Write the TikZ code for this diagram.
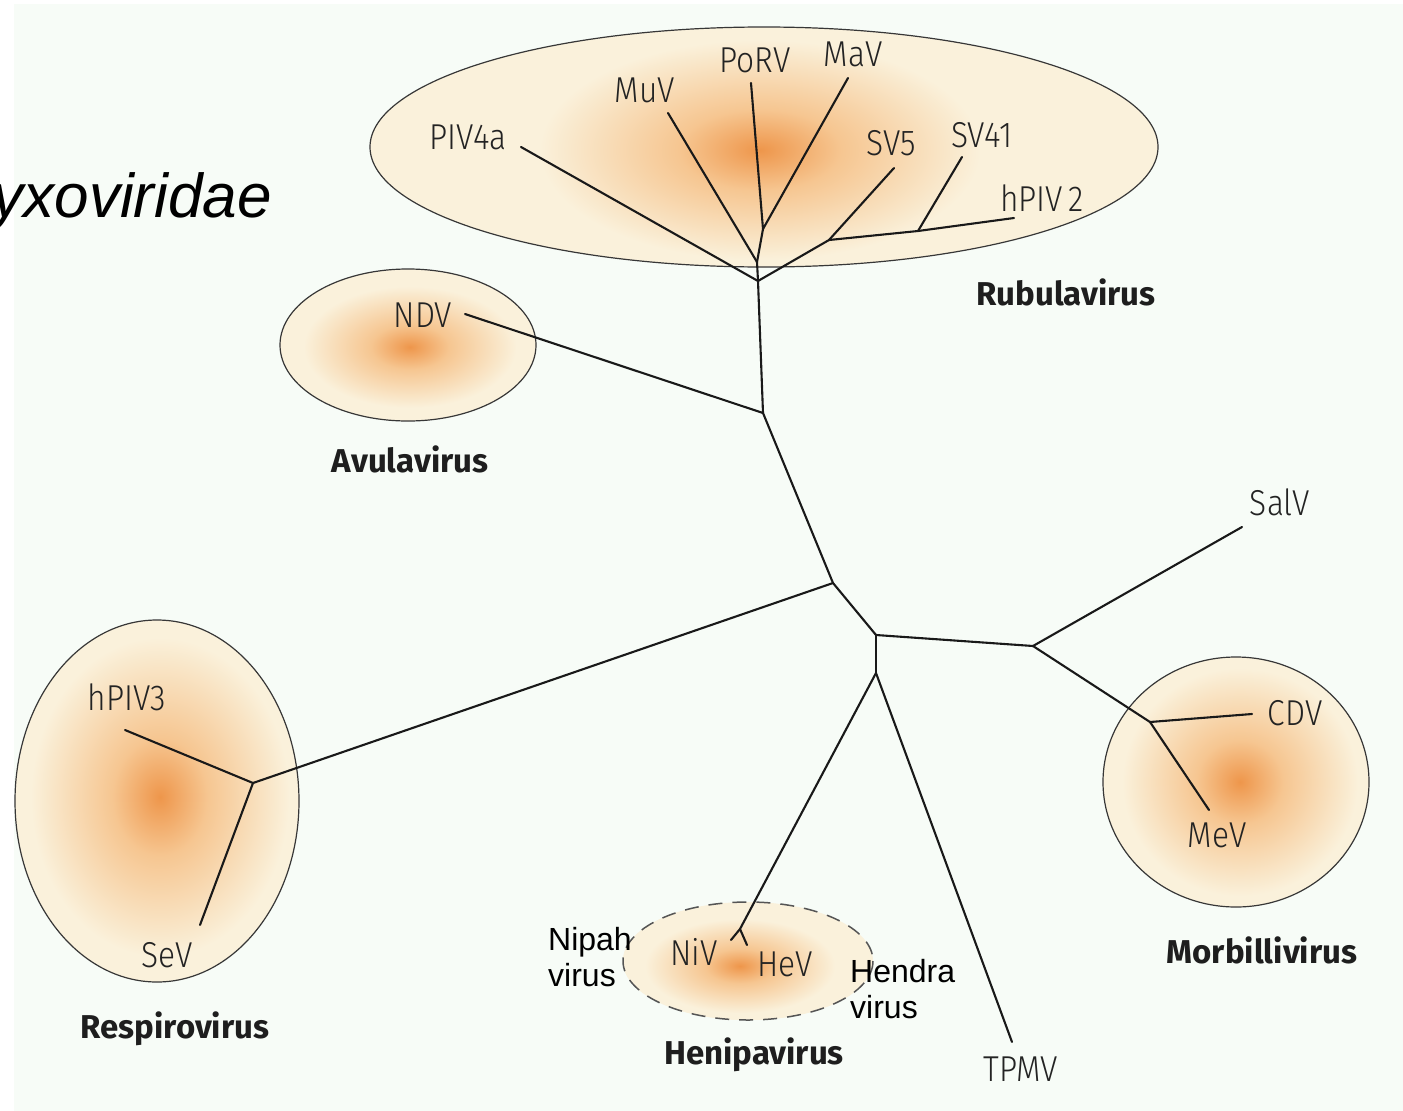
\documentclass[tikz,border=0pt]{standalone}
\usepackage{fontspec}
\setmainfont{Fira Sans}
\newfontfamily\labfont[FakeStretch=0.88,UprightFont={* Light}]{Fira Sans}
\newfontfamily\arialfont{Liberation Sans}
\definecolor{bgc}{RGB}{247,252,247}
\definecolor{corec}{RGB}{238,150,75}
\definecolor{midc}{RGB}{246,198,145}
\definecolor{creamc}{RGB}{250,241,219}
\definecolor{linec}{RGB}{25,25,25}
\definecolor{ringc}{RGB}{55,55,55}
\definecolor{labc}{RGB}{35,35,35}
\definecolor{genc}{RGB}{30,30,30}
\pgfdeclareradialshading{core}{\pgfpoint{0bp}{0bp}}{color(0bp)=(corec); color(7bp)=(midc); color(19bp)=(creamc); color(25bp)=(creamc); color(50bp)=(creamc)}
\tikzset{
  leaf/.style={font=\labfont\fontsize{36}{40}\selectfont, text=labc, inner sep=0pt},
  genus/.style={font=\bfseries\fontsize{33}{38}\selectfont, text=genc, inner sep=0pt},
  engl/.style={font=\arialfont\fontsize{32}{36}\selectfont, align=left, inner sep=0pt, text=black},
  br/.style={draw=linec, line width=2.1pt, line cap=round, line join=round},
  grp/.style={draw=ringc, line width=1.2pt},
  grpfill/.style={fill=creamc},
}
\begin{document}
\begin{tikzpicture}[x=1pt,y=-1pt]
\useasboundingbox (0,0) rectangle (1403,1111);
\fill[white] (0,0) rectangle (1403,1111);
\fill[bgc] (14,4) rectangle (1403,1111);

% ---- group ellipses: fill + core shading ----
\fill[grpfill] (764,147) ellipse (394 and 120);
\begin{scope}\clip (764,147) ellipse (394 and 120);
  \shade[shading=core] (760,150) ellipse (290 and 145);\end{scope}
\draw[grp] (764,147) ellipse (394 and 120);

\fill[grpfill] (408,345) ellipse (128 and 76);
\begin{scope}\clip (408,345) ellipse (128 and 76);
  \shade[shading=core] (410,347) ellipse (140 and 80);\end{scope}
\draw[grp] (408,345) ellipse (128 and 76);

\fill[grpfill] (157,801) ellipse (142 and 181);
\begin{scope}\clip (157,801) ellipse (142 and 181);
  \shade[shading=core] (160,797) ellipse (170 and 210);\end{scope}
\draw[grp] (157,801) ellipse (142 and 181);

\fill[grpfill] (1236,782) ellipse (133 and 125);
\begin{scope}\clip (1236,782) ellipse (133 and 125);
  \shade[shading=core] (1240,782) ellipse (155 and 150);\end{scope}
\draw[grp] (1236,782) ellipse (133 and 125);

\fill[grpfill] (748,961) ellipse (125 and 59);
\begin{scope}\clip (748,961) ellipse (125 and 59);
  \shade[shading=core] (740,966) ellipse (125 and 62);\end{scope}
\draw[grp, draw=ringc!85, line width=1.5pt, dash pattern=on 14pt off 10pt] (748,961) ellipse (125 and 59);

% ---- tree points ----
\coordinate (R)  at (758,281);
\coordinate (J1) at (757,262);
\coordinate (J2) at (763,229);
\coordinate (J3) at (829,240);
\coordinate (J4) at (918,231);
\coordinate (ePIV4a) at (521,147);
\coordinate (eMuV)   at (668,113);
\coordinate (ePoRV)  at (751,83);
\coordinate (eMaV)   at (848,78);
\coordinate (eSV5)   at (894,168);
\coordinate (eSV41)  at (962,157);
\coordinate (ehPIV2) at (1014,218);
\coordinate (A) at (763,413);
\coordinate (eNDV) at (465,314);
\coordinate (B) at (833,583);
\coordinate (RJ) at (253,783);
\coordinate (ehPIV3) at (125,730);
\coordinate (eSeV) at (200,925);
\coordinate (C) at (876,635);
\coordinate (D) at (1033,646);
\coordinate (eSalV) at (1242,527);
\coordinate (MJ) at (1150,722);
\coordinate (eCDV) at (1252,714);
\coordinate (eMeV) at (1209,810);
\coordinate (E) at (876,673);
\coordinate (HJ) at (740,929);
\coordinate (eNiV) at (731,940);
\coordinate (eHeV) at (747,945);
\coordinate (eTPMV) at (1012,1042);

% ---- branches ----
\draw[br] (R) -- (ePIV4a);
\draw[br] (R) -- (J1);
\draw[br] (J1) -- (eMuV);
\draw[br] (J1) -- (J2);
\draw[br] (J2) -- (ePoRV);
\draw[br] (J2) -- (eMaV);
\draw[br] (R) -- (J3);
\draw[br] (J3) -- (eSV5);
\draw[br] (J3) -- (J4);
\draw[br] (J4) -- (eSV41);
\draw[br] (J4) -- (ehPIV2);
\draw[br] (R) -- (A);
\draw[br] (A) -- (eNDV);
\draw[br] (A) -- (B);
\draw[br] (B) -- (RJ);
\draw[br] (RJ) -- (ehPIV3);
\draw[br] (RJ) -- (eSeV);
\draw[br] (B) -- (C);
\draw[br] (C) -- (D);
\draw[br] (D) -- (eSalV);
\draw[br] (D) -- (MJ);
\draw[br] (MJ) -- (eCDV);
\draw[br] (MJ) -- (eMeV);
\draw[br] (C) -- (E);
\draw[br] (E) -- (HJ);
\draw[br] (HJ) -- (eNiV);
\draw[br] (HJ) -- (eHeV);
\draw[br] (E) -- (eTPMV);

% ---- leaf labels ----
\node[leaf] (tPIV4a) at (468,137) {PIV4a};
\node[leaf] (tMuV)   at (645,90)  {MuV};
\node[leaf] (tPoRV)  at (755,60)  {PoRV};
\node[leaf] (tMaV)   at (853,54)  {MaV};
\node[leaf] (tSV5)   at (891,143) {SV5};
\node[leaf] (tSV41)  at (982,135) {SV41};
\node[leaf] (thPIV2) at (1042,198) {hPIV\,2};
\node[leaf] (tNDV)   at (423,315) {NDV};
\node[leaf] (thPIV3) at (127,697) {hPIV3};
\node[leaf] (tSeV)   at (167,955) {SeV};
\node[leaf] (tSalV)  at (1280,502) {SalV};
\node[leaf] (tCDV)   at (1295,713) {CDV};
\node[leaf] (tMeV)   at (1217,835) {MeV};
\node[leaf] (tNiV)   at (694,952) {NiV};
\node[leaf] (tHeV)   at (785,964) {HeV};
\node[leaf] (tTPMV)  at (1021,1069) {TPMV};

% ---- genus labels ----
\node[genus] (gRub) at (1066,292) {Rubulavirus};
\node[genus] (gAvu) at (410,459) {Avulavirus};
\node[genus] (gRes) at (175,1029) {Respirovirus};
\node[genus] (gMor) at (1262,950) {Morbillivirus};
\node[genus] (gHen) at (754,1055) {Henipavirus};

% ---- added English labels ----
\node[engl, anchor=north west] (nipah) at (548,927) {Nipah\\virus};
\node[engl, anchor=north west] (hendra) at (850,959) {Hendra\\virus};

% ---- family title (cut off at left, as in the reference) ----
\node[inner sep=0pt, anchor=base east, font=\arialfont\itshape\fontsize{62}{66}\selectfont] (fam) at (272,217) {yxoviridae};
\end{tikzpicture}
\end{document}
